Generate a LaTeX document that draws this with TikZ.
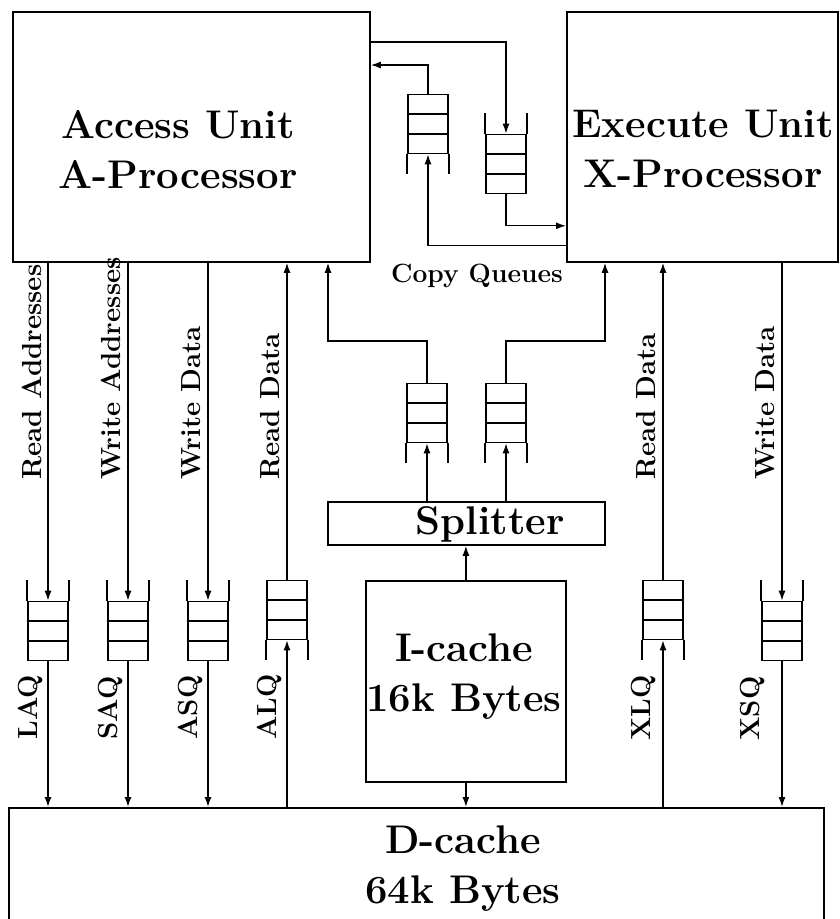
\documentclass[tikz,border=0pt]{standalone}
\usetikzlibrary{arrows.meta,calc}

\newcommand{\bigbf}{\fontsize{20}{25}\selectfont\bfseries}
\newcommand{\smallbf}{\fontsize{13.8}{16}\selectfont\bfseries}

\begin{document}
\begin{tikzpicture}[
  x=0.5pt, y=-0.5pt,
  every node/.style={inner sep=0pt},
  unitbox/.style={draw, line width=0.9pt, anchor=north west},
  boxtext/.style={font=\bigbf, align=center, anchor=north},
  fifo/.style={draw, line width=0.8pt, minimum width=20pt, minimum height=29.5pt,
    path picture={\foreach \k in {1,2}
      \draw[line width=0.8pt] ($(path picture bounding box.north west)!\k/3!(path picture bounding box.south west)$)
        -- ($(path picture bounding box.north east)!\k/3!(path picture bounding box.south east)$);}},
  qline/.style={line width=0.8pt},
  vlabel/.style={font=\smallbf, rotate=90, anchor=base west},
  arr/.style={-{Latex[length=5pt,width=3.5pt]}, line width=0.7pt}
]
\useasboundingbox (0,0) rectangle (839,919);

% units
\node[unitbox, minimum width=178.5pt, minimum height=125pt] (A) at (12,11) {};
\node[unitbox, minimum width=135.5pt, minimum height=125pt] (X) at (566,11) {};
\node[unitbox, minimum width=138.5pt, minimum height=21.5pt] (S) at (327,501) {};
\node[unitbox, minimum width=100pt, minimum height=100.5pt] (I) at (365,580) {};
\node[unitbox, minimum width=407.5pt, minimum height=70pt] (D) at (8,807) {};

\node[boxtext] (atext) at (178,110) {Access Unit\\A-Processor};
\node[boxtext] (xtext) at (703,110) {Execute Unit\\X-Processor};
\node[font=\bigbf, anchor=base] (stext) at (490,534) {Splitter};
\node[boxtext] (itext) at (464,633) {I-cache\\16k Bytes};
\node[boxtext] (dtext) at (463,825) {D-cache\\64k Bytes};

% queues
\node[fifo] (laq) at (48,631) {};
\node[fifo] (saq) at (128,631) {};
\node[fifo] (asq) at (208,631) {};
\node[fifo] (alq) at (287,610) {};
\node[fifo] (xlq) at (663,610) {};
\node[fifo] (xsq) at (782,631) {};
\node[fifo] (cq1) at (428,124) {};
\node[fifo] (cq2) at (506,164) {};
\node[fifo] (mq1) at (427,413) {};
\node[fifo] (mq2) at (506,413) {};

\foreach \q in {laq,saq,asq,xsq,cq2}
  \draw[qline] (\q.north west) -- ++(0,-21) (\q.north east) -- ++(0,-21);
\foreach \q in {alq,xlq,cq1,mq1,mq2}
  \draw[qline] (\q.south west) -- ++(0,20) (\q.south east) -- ++(0,20);

% labels
\node[vlabel] (lra) at (41,480) {Read Addresses};
\node[vlabel] (lwa) at (120,480) {Write Addresses};
\node[vlabel] (lwd) at (200,480) {Write Data};
\node[vlabel] (lrd) at (279,480) {Read Data};
\node[vlabel] (lxr) at (655,480) {Read Data};
\node[vlabel] (lxw) at (774,480) {Write Data};
\node[vlabel] (llaq) at (37,740) {LAQ};
\node[vlabel] (lsaq) at (117,740) {SAQ};
\node[vlabel] (lasq) at (197,740) {ASQ};
\node[vlabel] (lalq) at (276,740) {ALQ};
\node[vlabel] (lxlq) at (650,741) {XLQ};
\node[vlabel] (lxsq) at (759,741) {XSQ};
\node[font=\fontsize{13.2}{15}\selectfont\bfseries, anchor=base] (cqlabel) at (477,283) {Copy Queues};

% access unit and execute unit traffic
\foreach \q in {laq,saq,asq} {
  \draw[arr] (\q.north |- A.south) -- (\q.north);
  \draw[arr] (\q.south) -- (\q.south |- D.north);
}
\draw[arr] (alq.south |- D.north) -- (alq.south);
\draw[arr] (alq.north) -- (alq.north |- A.south);
\draw[arr] (xlq.south |- D.north) -- (xlq.south);
\draw[arr] (xlq.north) -- (xlq.north |- X.south);
\draw[arr] (xsq.north |- X.south) -- (xsq.north);
\draw[arr] (xsq.south) -- (xsq.south |- D.north);

% instruction path
\coordinate (jl) at (328,341);
\coordinate (jr) at (605,341);
\draw[arr] (I.south) -- (I.south |- D.north);
\draw[arr] (I.north) -- (I.north |- S.south);
\draw[arr] (mq1.south |- S.north) -- (mq1.south);
\draw[arr] (mq2.south |- S.north) -- (mq2.south);
\draw[arr] (mq1.north) |- (jl) -- (jl |- A.south);
\draw[arr] (mq2.north) |- (jr) -- (jr |- X.south);

% copy queues
\draw[arr] ([yshift=-15.5pt]A.north east) -| (cq2.north);
\draw[arr] (cq2.south) |- ([yshift=18.5pt]X.south west);
\draw[arr] ([yshift=8.5pt]X.south west) -| (cq1.south);
\draw[arr] (cq1.north) |- ([yshift=-27pt]A.north east);
\end{tikzpicture}
\end{document}
